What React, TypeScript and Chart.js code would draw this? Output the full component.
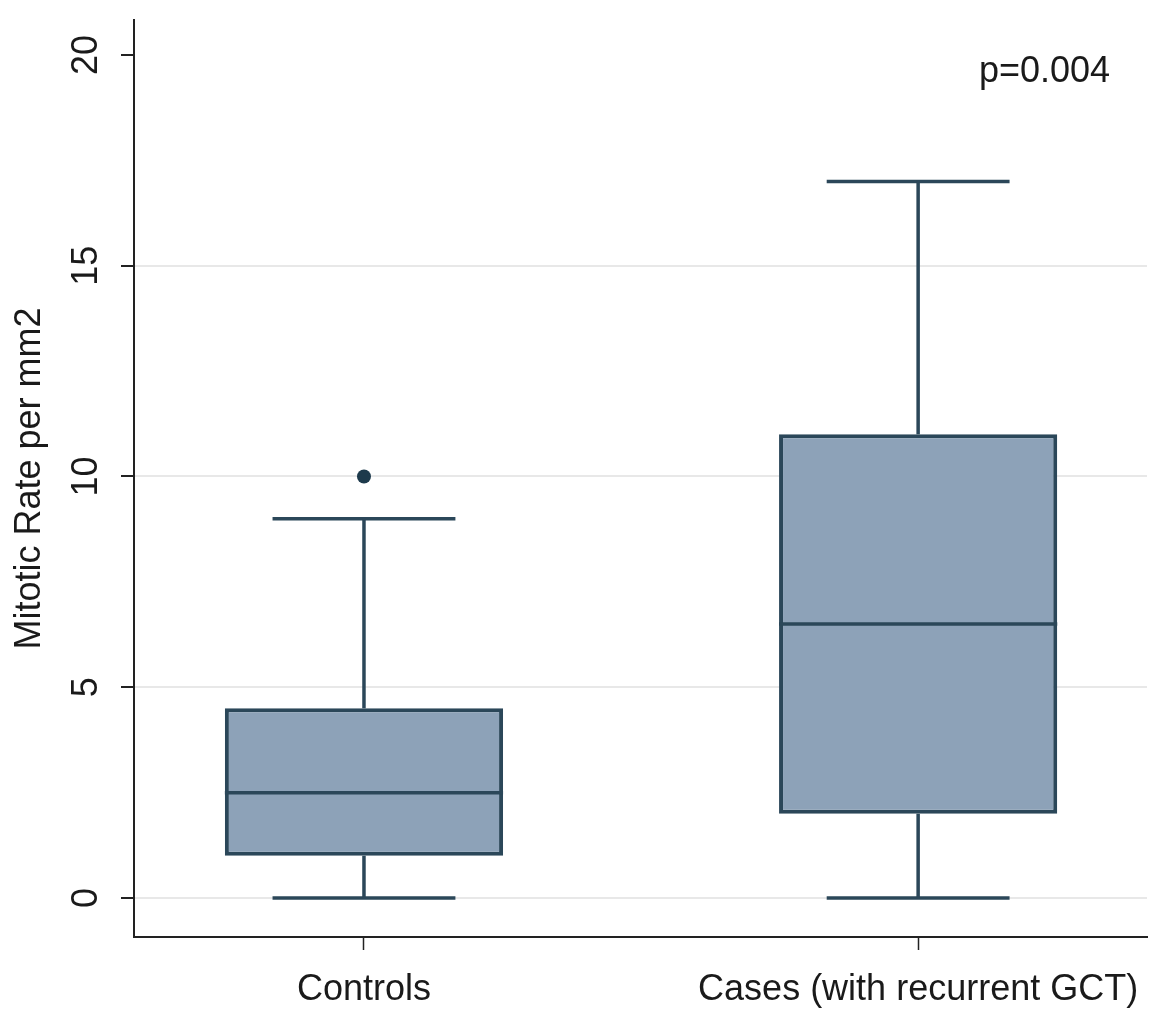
import React, { useEffect, useRef } from "react";
import { Chart, registerables } from "chart.js";

Chart.register(...registerables);

// ---- data ----
const categories = ["Controls", "Cases (with recurrent GCT)"];
const whiskerLow = [0, 0];
const q1 = [1, 2];
const median = [2.5, 6.5];
const q3 = [4.5, 11];
const whiskerHigh = [9, 17];
const outliers: number[][] = [[10], []];
const yTicks = [0, 5, 10, 15, 20];
const pValueText = "p=0.004";

// ---- styles ----
const FONT = '"Liberation Sans", Arial, sans-serif';
const LINE = "#2b4759";
const FILL = "#8da2b8";
const TEXT = "#1a1a1a";
const BOX_PCT = 0.502; // fraction of category spacing used by box
const CAP_HALF = 0.165; // half width of whisker caps (x units)

export default function App() {
  const ref = useRef<HTMLCanvasElement | null>(null);

  useEffect(() => {
    if (!ref.current) return;
    const half = BOX_PCT / 2;
    const lineDs = (pts: { x: number; y: number }[]) => ({
      type: "line" as const,
      data: pts,
      borderColor: LINE,
      borderWidth: 3.5,
      pointRadius: 0,
      fill: false,
      tension: 0,
      borderCapStyle: "butt" as const,
      order: 1,
    });

    const datasets: any[] = [];
    datasets.push({
      type: "bar",
      data: categories.map((_, i) => ({ x: i + 1, y: [q1[i], q3[i]] })),
      backgroundColor: FILL,
      borderColor: LINE,
      borderWidth: 4,
      borderSkipped: false,
      categoryPercentage: 1,
      barPercentage: BOX_PCT,
      order: 3,
    });
    categories.forEach((_, i) => {
      const c = i + 1;
      datasets.push(lineDs([{ x: c - half, y: median[i] }, { x: c + half, y: median[i] }]));
      datasets.push(lineDs([{ x: c, y: q3[i] }, { x: c, y: whiskerHigh[i] }]));
      datasets.push(lineDs([{ x: c, y: q1[i] }, { x: c, y: whiskerLow[i] }]));
      datasets.push(lineDs([{ x: c - CAP_HALF, y: whiskerHigh[i] }, { x: c + CAP_HALF, y: whiskerHigh[i] }]));
      datasets.push(lineDs([{ x: c - CAP_HALF, y: whiskerLow[i] }, { x: c + CAP_HALF, y: whiskerLow[i] }]));
    });
    datasets.push({
      type: "scatter",
      data: outliers.flatMap((arr, i) => arr.map((v) => ({ x: i + 1, y: v }))),
      backgroundColor: "#1d3a4c",
      borderColor: "#1d3a4c",
      pointRadius: 7,
      pointBorderWidth: 0,
      order: 0,
    });

    const annotation = {
      id: "pvalue",
      afterDraw(chart: any) {
        const { ctx, scales } = chart;
        const x = scales.x.getPixelForValue(2.228);
        const y = scales.y.getPixelForValue(19.36);
        ctx.save();
        ctx.font = `36px ${FONT}`;
        ctx.fillStyle = TEXT;
        ctx.textAlign = "center";
        ctx.textBaseline = "alphabetic";
        ctx.fillText(pValueText, x, y);
        ctx.restore();
      },
    };

    const chart = new Chart(ref.current, {
      type: "bar",
      data: { datasets },
      plugins: [annotation],
      options: {
        animation: false,
        responsive: false,
        events: [],
        layout: { padding: { top: 20, right: 9, left: 0, bottom: 0 } },
        plugins: { legend: { display: false }, tooltip: { enabled: false } },
        scales: {
          x: {
            type: "linear",
            min: 0.585,
            max: 2.413,
            offset: false,
            afterBuildTicks: (s: any) => {
              s.ticks = categories.map((_, i) => ({ value: i + 1 }));
            },
            afterFit: (s: any) => {
              s.height = 75;
              s.paddingLeft = 0;
              s.paddingRight = 0;
            },
            ticks: {
              callback: (v: any) => categories[Math.round(Number(v)) - 1] ?? "",
              font: { family: FONT, size: 36 },
              color: TEXT,
              padding: 18,
              maxRotation: 0,
              minRotation: 0,
            },
            grid: {
              offset: false,
              drawOnChartArea: false,
              drawTicks: true,
              tickLength: 13,
              tickColor: "#222",
              tickWidth: 1.5,
            },
            border: { display: true, color: "#222", width: 2 },
          },
          y: {
            type: "linear",
            min: -0.925,
            max: 20.83,
            afterBuildTicks: (s: any) => {
              s.ticks = yTicks.map((v) => ({ value: v }));
            },
            afterFit: (s: any) => {
              s.width = 134;
              s.paddingTop = 0;
              s.paddingBottom = 0;
            },
            ticks: {
              font: { family: FONT, size: 36 },
              color: TEXT,
              minRotation: 90,
              maxRotation: 90,
              crossAlign: "center",
              padding: 13.5,
            },
            grid: {
              offset: false,
              color: (c: any) => (c.tick && c.tick.value === 20 ? "rgba(0,0,0,0)" : "#e8e8e8"),
              lineWidth: 2,
              drawTicks: true,
              tickLength: 13,
              tickColor: "#222",
              tickWidth: 2,
            },
            border: { display: true, color: "#222", width: 2 },
            title: {
              display: true,
              text: "Mitotic Rate per mm2",
              font: { family: FONT, size: 36 },
              color: TEXT,
              padding: { top: 8, bottom: 0 },
            },
          },
        },
      },
    });
    return () => chart.destroy();
  }, []);

  return (
    <div style={{ position: "absolute", left: 0, top: 0, width: 1156, height: 1012, background: "#fff" }}>
      <canvas ref={ref} width={1156} height={1012} style={{ width: 1156, height: 1012, display: "block" }} />
    </div>
  );
}
